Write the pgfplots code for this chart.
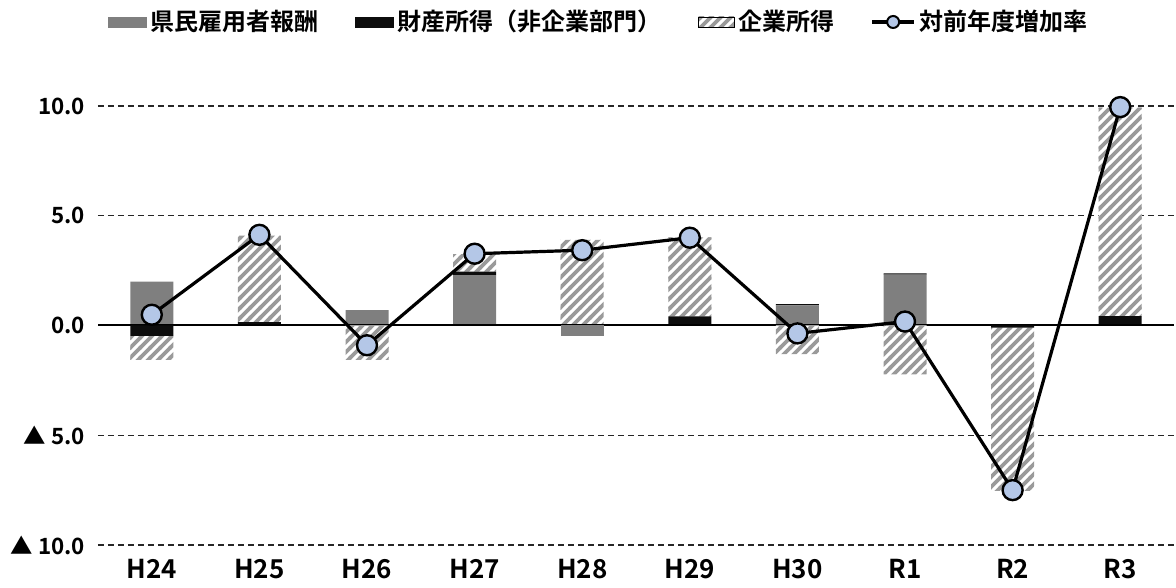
\documentclass[border=0pt]{standalone}
\usepackage{fontspec}
\setmainfont{Noto Sans CJK JP}[BoldFont=* Bold]
\usepackage{pgfplots}
\pgfplotsset{compat=1.18}
\usetikzlibrary{patterns}
\definecolor{empgray}{HTML}{7F7F7F}
\definecolor{propblack}{HTML}{0D0D0D}
\definecolor{hatchgray}{HTML}{9A9A9A}
\definecolor{mkblue}{HTML}{B4C7E7}
\pgfdeclarepatternformonly{hatchy}{\pgfqpoint{-1pt}{-1pt}}{\pgfqpoint{6pt}{6pt}}{\pgfqpoint{5pt}{5pt}}{%
  \pgfsetlinewidth{1.9pt}%
  \pgfpathmoveto{\pgfqpoint{-0.5pt}{-0.5pt}}%
  \pgfpathlineto{\pgfqpoint{5.5pt}{5.5pt}}%
  \pgfusepath{stroke}%
}
\pgfplotsset{
  base/.style={
    at={(0,0)}, anchor=south west, scale only axis,
    width=538pt, height=219.5pt,
    xmin=-0.5, xmax=9.5, ymin=-10, ymax=10,
    clip=false,
  },
  barstyle/.style={
    ybar stacked, bar width=21.5pt,
  },
  empst/.style={fill=empgray, draw=none},
  propst/.style={fill=propblack, draw=none},
  corpst/.style={fill=white, draw=none, postaction={pattern=hatchy, pattern color=hatchgray}},
}
\begin{document}
\begin{tikzpicture}
% positives + grid + ticks
\begin{axis}[base, barstyle,
  axis line style={draw=none}, tick style={draw=none},
  xtick={0,...,9},
  xticklabels={H24,H25,H26,H27,H28,H29,H30,R1,R2,R3},
  ytick={-10,-5,0,5,10},
  yticklabels={▲ 10.0,▲ 5.0,0.0,5.0,10.0},
  ymajorgrids, grid style={black!85, line width=0.6pt, dash pattern=on 3pt off 2pt},
  xticklabel style={font=\fontsize{13}{15}\selectfont\bfseries, yshift=-3.5pt},
  yticklabel style={font=\fontsize{11.2}{13}\selectfont\bfseries, xshift=-3pt},
]
\addplot[empst] coordinates {(0,2.0) (1,0) (2,0.7) (3,2.3) (4,0) (5,0) (6,0.92) (7,2.32) (8,0) (9,0)};
\addplot[propst] coordinates {(0,0) (1,0.15) (2,0) (3,0.15) (4,0) (5,0.41) (6,0.05) (7,0.06) (8,0) (9,0.43)};
\addplot[corpst] coordinates {(0,0) (1,3.95) (2,0) (3,0.8) (4,3.9) (5,3.6) (6,0) (7,0) (8,0) (9,9.5)};
\end{axis}
% negatives + zero line
\begin{axis}[base, barstyle, hide axis]
\addplot[empst] coordinates {(0,0) (1,0) (2,0) (3,0) (4,-0.49) (5,0) (6,0) (7,0) (8,0) (9,0)};
\addplot[propst] coordinates {(0,-0.47) (1,0) (2,0) (3,0) (4,0) (5,0) (6,0) (7,0) (8,-0.1) (9,0)};
\addplot[corpst] coordinates {(0,-1.1) (1,0) (2,-1.57) (3,0) (4,0) (5,0) (6,-1.3) (7,-2.23) (8,-7.44) (9,0)};
\draw[black, line width=1pt] (axis cs:-0.5,0) -- (axis cs:9.5,0);
\end{axis}
% line + legend
\begin{axis}[base, hide axis,
  legend columns=4,
  legend style={draw=none, fill=none, at={(0.4665,1)}, anchor=center, yshift=42pt,
    font=\fontsize{12}{14}\selectfont\bfseries,
    /tikz/every even column/.append style={column sep=16pt}},
  legend cell align=left,
]
\addlegendimage{legend image code/.code={\fill[empgray] (0pt,-2.5pt) rectangle (19pt,2.5pt);}}
\addlegendentry{県民雇用者報酬}
\addlegendimage{legend image code/.code={\fill[propblack] (0pt,-2.5pt) rectangle (19pt,2.5pt);}}
\addlegendentry{財産所得（非企業部門）}
\addlegendimage{legend image code/.code={\fill[pattern=hatchy, pattern color=hatchgray] (0pt,-2.5pt) rectangle (18pt,2.5pt);}}
\addlegendentry{企業所得}
\addplot[black, line width=1.6pt, sharp plot, mark=*, mark size=5pt,
  mark options={fill=mkblue, draw=black, line width=1.2pt},
  legend image code/.code={\draw[black, line width=1.6pt] (0pt,0pt) -- (21pt,0pt);
    \filldraw[fill=mkblue, draw=black, line width=1pt] (10.5pt,0pt) circle (3pt);}]
  coordinates {(0,0.49) (1,4.13) (2,-0.9) (3,3.27) (4,3.43) (5,4.0) (6,-0.36) (7,0.18) (8,-7.5) (9,9.95)};
\addlegendentry{対前年度増加率}
\end{axis}
\pgfresetboundingbox
\path[use as bounding box] (-49pt,-21.5pt) rectangle (539pt,272.5pt);
\end{tikzpicture}
\end{document}
